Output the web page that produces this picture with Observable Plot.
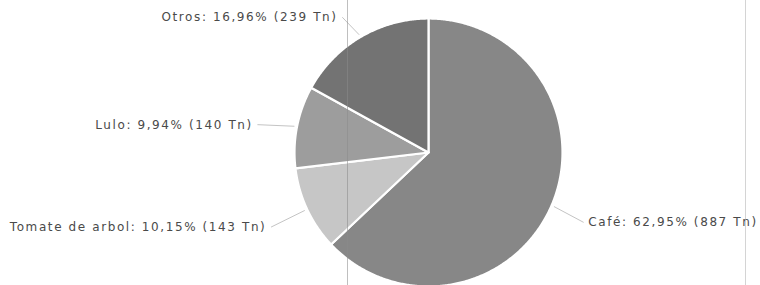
<!DOCTYPE html>
<html><head><meta charset="utf-8">
<script src="https://cdn.jsdelivr.net/npm/d3@7"></script>
<script src="https://cdn.jsdelivr.net/npm/@observablehq/plot@0.6"></script>
<style>
body{margin:0;background:#fff;overflow:hidden}
#wrap{position:relative;width:760px;height:285px}
.scan{position:absolute;top:0;height:285px;width:1px;pointer-events:none}
</style></head><body><div id="wrap"></div>
<script>
const categories = ["Café", "Tomate de arbol", "Lulo", "Otros"];
const tonnes = [887, 143, 140, 239];
const percents = ["62,95%", "10,15%", "9,94%", "16,96%"];
const sliceColors = ["#878787", "#c6c6c6", "#9d9d9d", "#737373"];

// layout
const cx = 428, cy = 152, R = 134;
const W = 760, H = 285;

const arcs = d3.pie().sort(null).value(d => d)(tonnes);
const slices = [];
const labels = [];
const leaders = [];
arcs.forEach((a, i) => {
  const n = Math.max(4, Math.ceil((a.endAngle - a.startAngle) / (Math.PI / 360)));
  slices.push({cat: categories[i], x: 0, y: 0, k: 0});
  for (let j = 0; j <= n; j++) {
    const t = a.startAngle + (a.endAngle - a.startAngle) * j / n;
    slices.push({cat: categories[i], x: Math.sin(t), y: Math.cos(t), k: j + 1});
  }
  slices.push({cat: categories[i], x: 0, y: 0, k: n + 2});
  const m = (a.startAngle + a.endAngle) / 2;
  const sx = Math.sin(m), sy = Math.cos(m);
  const right = sx >= 0;
  const lx = sx * (R + (right ? 40 : 45)) / R;
  let ly = (sy * (R + 32) - 4) / R;
  const top = (cy - 17) / R, bottom = -(H - 12 - cy) / R;
  ly = Math.min(top, Math.max(bottom, ly));
  labels.push({cat: categories[i], x: lx, y: ly, right,
    text: `${categories[i]}: ${percents[i]} (${tonnes[i]} Tn)`});
  const gap = 5 / R * (right ? -1 : 1);
  leaders.push({cat: categories[i], x: sx * (R + 3) / R, y: sy * (R + 3) / R});
  leaders.push({cat: categories[i], x: lx + gap, y: ly});
});

const marks = categories.map((c, i) => Plot.line(slices.filter(d => d.cat === c), {
  x: "x", y: "y", fill: sliceColors[i], stroke: "#ffffff", strokeWidth: 2.2,
  strokeLinejoin: "round", curve: "linear"
}));
marks.push(Plot.line(leaders, {x: "x", y: "y", z: "cat", stroke: "#c4c4c4", strokeWidth: 1}));
marks.push(Plot.text(labels.filter(d => d.right), {x: "x", y: "y", text: "text", textAnchor: "start", fill: "#4a4a4a"}));
marks.push(Plot.text(labels.filter(d => !d.right), {x: "x", y: "y", text: "text", textAnchor: "end", fill: "#4a4a4a"}));

const chart = Plot.plot({
  width: W, height: H, margin: 0,
  style: {fontFamily: "DejaVu Sans", fontSize: "12px", letterSpacing: "1.6px", background: "#fff", overflow: "visible"},
  x: {domain: [-1, 1], range: [cx - R, cx + R], axis: null},
  y: {domain: [-1, 1], range: [cy + R, cy - R], axis: null},
  marks
});
const wrap = document.getElementById("wrap");
wrap.appendChild(chart);
for (const [x, col, op] of [[347, "#8a8a8a", 0.55], [745, "#aaaaaa", 0.5]]) {
  const d = document.createElement("div");
  d.className = "scan";
  d.style.left = x + "px"; d.style.background = col; d.style.opacity = op;
  wrap.appendChild(d);
}
</script></body></html>
